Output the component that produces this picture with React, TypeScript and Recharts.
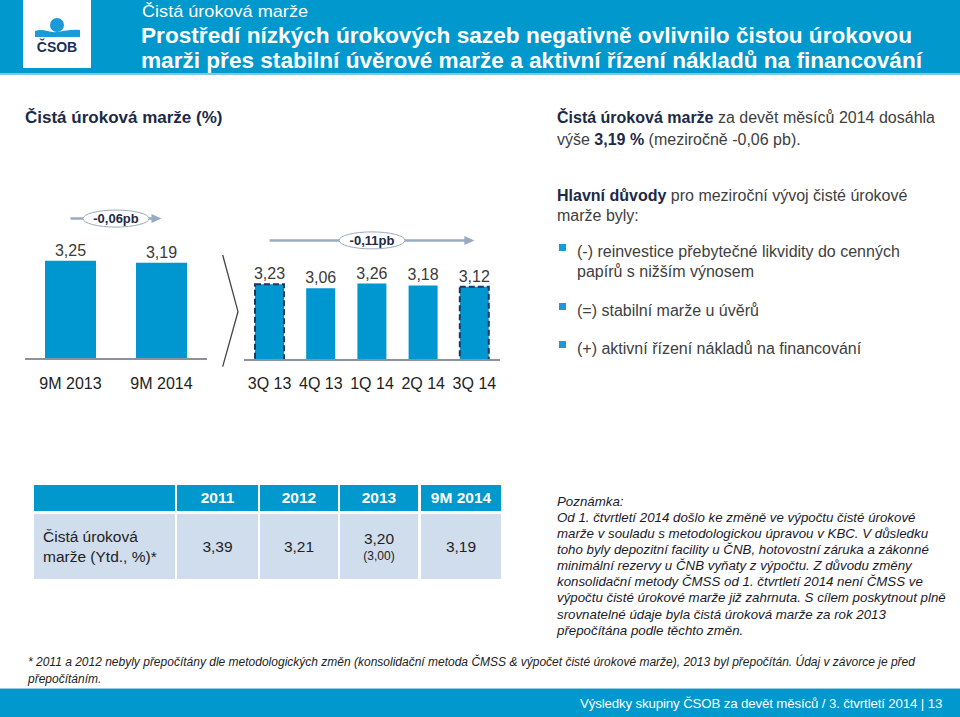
import React from 'react';
import { BarChart, Bar, XAxis, YAxis, LabelList, Cell, ReferenceLine } from 'recharts';

// ---- data ----
const ytdCategories = ['9M 2013', '9M 2014'];
const ytdValues = [3.25, 3.19];
const qCategories = ['3Q 13', '4Q 13', '1Q 14', '2Q 14', '3Q 14'];
const qValues = [3.23, 3.06, 3.26, 3.18, 3.12];
const qDashed = [true, false, false, false, true];
const ytdChangeLabel = '-0,06pb';
const qChangeLabel = '-0,11pb';
const tableYears = ['2011', '2012', '2013', '9M 2014'];
const tableValues = ['3,39', '3,21', '3,20', '3,19'];
const tableSubValues = ['', '', '(3,00)', ''];

const ytdData = ytdCategories.map((c, i) => ({ name: c, value: ytdValues[i] }));
const qData = qCategories.map((c, i) => ({ name: c, value: qValues[i], dashed: qDashed[i] }));

const BLUE = '#0096CF';
const NAVY = '#1B2A47';
const FONT = '"Liberation Sans", Arial, sans-serif';
const fmt = (v: any) => Number(v).toFixed(2).replace('.', ',');

const makeArrow = (label: string) => (props: any) => {
  const { x1, y1, x2, y2 } = props;
  const mx = (x1 + x2) / 2;
  return (
    <g>
      <line x1={x1} y1={y1} x2={x2 - 8} y2={y2} stroke="#9AAAC0" strokeWidth={2.5} />
      <polygon points={`${x2},${y2} ${x2 - 10},${y2 - 4.5} ${x2 - 10},${y2 + 4.5}`} fill="#9AAAC0" />
      <ellipse cx={mx} cy={y1} rx={33} ry={8.5} fill="#fff" stroke="#9AAAC0" strokeWidth={1} />
      <text x={mx} y={y1} dy="0.35em" textAnchor="middle" fontSize={13} fontWeight="bold" fill={NAVY} fontFamily={FONT}>
        {label}
      </text>
    </g>
  );
};

const tickStyle = { fontSize: 16, fill: '#222', fontFamily: FONT };
const labelStyle = { fontSize: 16, fill: '#3A3A3A', fontFamily: FONT };

const T = (p: { x: number; y: number; size: number; lh?: number; children: any; style?: any }) => {
  const lh = p.lh ?? p.size * 1.25;
  return (
    <div
      style={{
        position: 'absolute',
        left: p.x,
        top: p.y - lh / 2,
        fontSize: p.size,
        lineHeight: `${lh}px`,
        whiteSpace: 'nowrap',
        fontFamily: FONT,
        ...p.style,
      }}
    >
      {p.children}
    </div>
  );
};

const Bullet = ({ y }: { y: number }) => (
  <div style={{ position: 'absolute', left: 559, top: y - 4, width: 7, height: 7, background: '#1C9AD6' }} />
);

export default function App() {
  const noteLines = [
    'Od 1. čtvrtletí 2014 došlo ke změně ve výpočtu čisté úrokové',
    'marže v souladu s metodologickou úpravou v KBC. V důsledku',
    'toho byly depozitní facility u ČNB, hotovostní záruka a zákonné',
    'minimální rezervy u ČNB vyňaty z výpočtu. Z důvodu změny',
    'konsolidační metody ČMSS od 1. čtvrtletí 2014 není ČMSS ve',
    'výpočtu čisté úrokové marže již zahrnuta. S cílem poskytnout plně',
    'srovnatelné údaje byla čistá úroková marže za rok 2013',
    'přepočítána podle těchto změn.',
  ];
  const colX = [177, 260, 340, 421];
  const colW = [81, 78, 78, 80];
  const txt = { color: '#404040' };
  return (
    <div style={{ position: 'absolute', left: 0, top: 0, width: 960, height: 717, background: '#fff', overflow: 'hidden', fontFamily: FONT }}>
      {/* header */}
      <div style={{ position: 'absolute', left: 0, top: 0, width: 960, height: 73, background: '#0098CD' }} />
      <div style={{ position: 'absolute', left: 0, top: 73, width: 960, height: 2, background: '#7FC6E4' }} />
      <div style={{ position: 'absolute', left: 23, top: 0, width: 68, height: 68, background: '#fff' }}>
        <svg width={68} height={68}>
          <circle cx={34} cy={25} r={7} fill="#1A9AD6" />
          <path d="M12,31 C20,28 26,33 34,32 C42,31 48,29 57,30 L57,37 L12,37 Z" fill="#1A9AD6" />
          <text x={34} y={52} textAnchor="middle" fontSize={14} fontWeight="bold" fill="#1B2F5C" fontFamily={FONT}>ČSOB</text>
        </svg>
      </div>
      <svg style={{ position: 'absolute', left: 0, top: 0 }} width={960} height={75}>
        <text x={142} y={17} fontSize={17} fill="#fff" fontFamily={FONT} textLength={166} lengthAdjust="spacingAndGlyphs">
          Čistá úroková marže
        </text>
        <text x={141} y={43} fontSize={22} fontWeight="bold" fill="#fff" fontFamily={FONT} textLength={771} lengthAdjust="spacingAndGlyphs">
          Prostředí nízkých úrokových sazeb negativně ovlivnilo čistou úrokovou
        </text>
        <text x={141} y={68} fontSize={22} fontWeight="bold" fill="#fff" fontFamily={FONT} textLength={781} lengthAdjust="spacingAndGlyphs">
          marži přes stabilní úvěrové marže a aktivní řízení nákladů na financování
        </text>
      </svg>

      {/* left heading */}
      <T x={25} y={118} size={17} style={{ color: NAVY, fontWeight: 'bold' }}>Čistá úroková marže (%)</T>

      {/* right text */}
      <T x={557} y={118} size={16} style={txt}>
        <b style={{ color: NAVY }}>Čistá úroková marže</b> za devět měsíců 2014 dosáhla
      </T>
      <T x={557} y={140} size={16} style={txt}>
        výše <b style={{ color: NAVY }}>3,19 %</b> (meziročně -0,06 pb).
      </T>
      <T x={557} y={196} size={16} style={txt}>
        <b style={{ color: NAVY }}>Hlavní důvody</b> pro meziroční vývoj čisté úrokové
      </T>
      <T x={557} y={216} size={16} style={txt}>marže byly:</T>
      <Bullet y={248} />
      <T x={577} y={252} size={16} style={txt}>(-) reinvestice přebytečné likvidity do cenných</T>
      <T x={577} y={272} size={16} style={txt}>papírů s nižším výnosem</T>
      <Bullet y={307} />
      <T x={577} y={311} size={16} style={txt}>(=) stabilní marže u úvěrů</T>
      <Bullet y={345} />
      <T x={577} y={349} size={16} style={txt}>(+) aktivní řízení nákladů na financování</T>

      {/* chevron */}
      <svg style={{ position: 'absolute', left: 215, top: 250 }} width={30} height={125}>
        <polyline points="7.7,5 23,61.7 7.7,116.7" fill="none" stroke="#444" strokeWidth={1.3} />
      </svg>

      {/* left chart */}
      <div style={{ position: 'absolute', left: 0, top: 180 }}>
        <BarChart width={230} height={230} data={ytdData} margin={{ top: 28, right: 23, left: 25, bottom: 21 }}>
          <YAxis hide domain={[0, 5]} />
          <XAxis
            dataKey="name"
            height={30}
            tickLine={false}
            tickSize={0}
            tickMargin={19}
            tick={tickStyle}
            axisLine={{ stroke: '#8C929C', strokeWidth: 2 }}
          />
          <ReferenceLine
            ifOverflow="visible"
            segment={[{ x: ytdCategories[0], y: 4.65 }, { x: ytdCategories[1], y: 4.65 }]}
            shape={makeArrow(ytdChangeLabel)}
          />
          <Bar dataKey="value" fill={BLUE} barSize={51} isAnimationActive={false}>
            <LabelList dataKey="value" position="top" offset={5} formatter={fmt} style={labelStyle} />
          </Bar>
        </BarChart>
      </div>

      {/* right chart */}
      <div style={{ position: 'absolute', left: 230, top: 180 }}>
        <BarChart width={290} height={230} data={qData} margin={{ top: 51, right: 20, left: 14, bottom: 20 }}>
          <YAxis hide domain={[0, 5.5]} />
          <XAxis
            dataKey="name"
            height={30}
            tickLine={false}
            tickSize={0}
            tickMargin={18}
            tick={tickStyle}
            axisLine={{ stroke: '#8C929C', strokeWidth: 2 }}
          />
          <ReferenceLine
            ifOverflow="visible"
            segment={[{ x: qCategories[0], y: 5.1 }, { x: qCategories[qCategories.length - 1], y: 5.1 }]}
            shape={makeArrow(qChangeLabel)}
          />
          <Bar dataKey="value" fill={BLUE} barSize={29} isAnimationActive={false}>
            {qData.map((d, i) => (
              <Cell
                key={i}
                fill={BLUE}
                stroke={d.dashed ? '#1F3660' : 'none'}
                strokeWidth={d.dashed ? 2 : 0}
                strokeDasharray={d.dashed ? '6 3' : undefined}
              />
            ))}
            <LabelList dataKey="value" position="top" offset={5} formatter={fmt} style={labelStyle} />
          </Bar>
        </BarChart>
      </div>

      {/* table */}
      <div style={{ position: 'absolute', left: 34, top: 485, width: 141, height: 26, background: '#0098CD' }} />
      <div style={{ position: 'absolute', left: 34, top: 514, width: 141, height: 65, background: '#D0DDED' }} />
      <T x={43} y={537} size={15.5} style={{ color: '#222' }}>Čistá úroková</T>
      <T x={43} y={557} size={15.5} style={{ color: '#222' }}>marže (Ytd., %)*</T>
      {tableYears.map((y, i) => (
        <React.Fragment key={y}>
          <div
            style={{
              position: 'absolute', left: colX[i], top: 485, width: colW[i], height: 26, background: '#0098CD',
              color: '#fff', fontWeight: 'bold', fontSize: 15.5, lineHeight: '26px', textAlign: 'center',
            }}
          >
            {y}
          </div>
          <div style={{ position: 'absolute', left: colX[i], top: 514, width: colW[i], height: 65, background: '#D0DDED' }} />
          {tableSubValues[i] ? (
            <>
              <div style={{ position: 'absolute', left: colX[i], top: 529, width: colW[i], textAlign: 'center', fontSize: 15.5, lineHeight: '20px', color: '#222' }}>
                {tableValues[i]}
              </div>
              <div style={{ position: 'absolute', left: colX[i], top: 548, width: colW[i], textAlign: 'center', fontSize: 12, lineHeight: '16px', color: '#222' }}>
                {tableSubValues[i]}
              </div>
            </>
          ) : (
            <div style={{ position: 'absolute', left: colX[i], top: 537, width: colW[i], textAlign: 'center', fontSize: 15.5, lineHeight: '20px', color: '#222' }}>
              {tableValues[i]}
            </div>
          )}
        </React.Fragment>
      ))}

      {/* note */}
      <T x={557} y={502} size={13.3} lh={16.1} style={{ color: '#1A1A2A', fontStyle: 'italic' }}>Poznámka:</T>
      {noteLines.map((l, i) => (
        <T key={i} x={557} y={518 + i * 16.1} size={13.3} lh={16.1} style={{ color: '#1A1A2A', fontStyle: 'italic' }}>
          {l}
        </T>
      ))}

      {/* footnote */}
      <T x={28} y={662} size={12} lh={17} style={{ color: '#222', fontStyle: 'italic' }}>
        * 2011 a 2012 nebyly přepočítány dle metodologických změn (konsolidační metoda ČMSS &amp; výpočet čisté úrokové marže), 2013 byl přepočítán. Údaj v závorce je před
      </T>
      <T x={28} y={679} size={12} lh={17} style={{ color: '#222', fontStyle: 'italic' }}>přepočítáním.</T>

      {/* footer */}
      <div style={{ position: 'absolute', left: 0, top: 689, width: 960, height: 28, background: '#0098CD' }} />
      <div style={{ position: 'absolute', left: 0, top: 688, width: 960, height: 1, background: '#8FCDE8' }} />
      <div
        style={{
          position: 'absolute', left: 580, top: 693, width: 360, lineHeight: '22px', fontSize: 13.3, color: '#fff',
          whiteSpace: 'nowrap', letterSpacing: '-0.15px',
        }}
      >
        Výsledky skupiny ČSOB za devět měsíců / 3. čtvrtletí 2014 | 13
      </div>
    </div>
  );
}
